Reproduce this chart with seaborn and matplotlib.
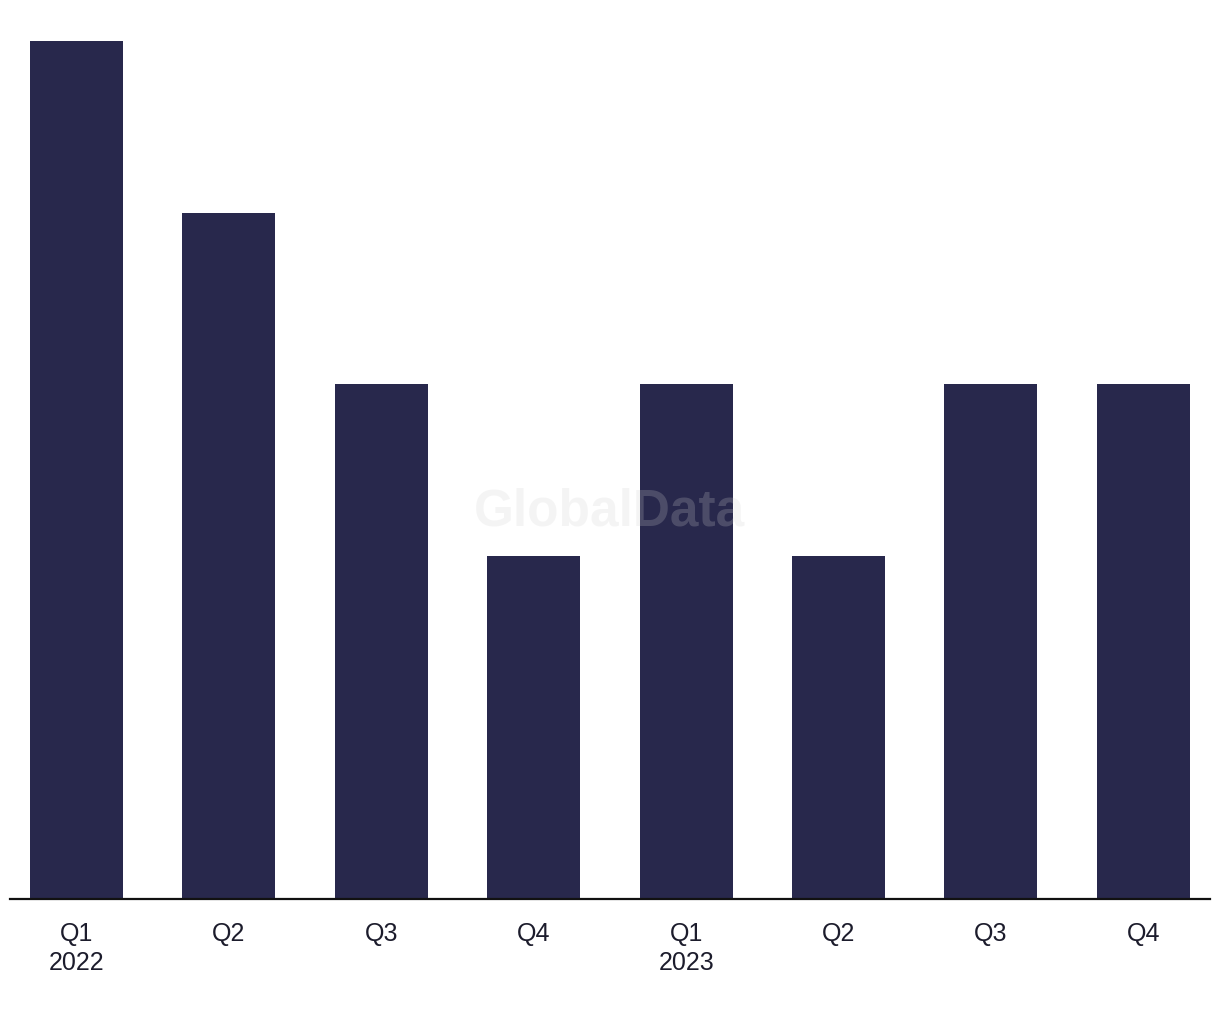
import matplotlib
matplotlib.use("Agg")
import matplotlib.pyplot as plt
import seaborn as sns
import pandas as pd

quarters = ["Q1\n2022", "Q2", "Q3", "Q4", "Q1\n2023", "Q2", "Q3", "Q4"]
values = [5, 4, 3, 2, 3, 2, 3, 3]

bar_color = "#28284c"
text_color = "#1c1c2c"

sns.set_theme(style="white")
plt.rcParams['font.family'] = ['Liberation Sans', 'DejaVu Sans']

df = pd.DataFrame({"pos": range(len(values)), "value": values})

fig = plt.figure(figsize=(12.2, 10.2), dpi=100)
ax = fig.add_axes([10 / 1220, 120 / 1020, 1200 / 1220, 858 / 1020])

sns.barplot(data=df, x="pos", y="value", color=bar_color, width=0.61,
            saturation=1, ax=ax, native_scale=True, linewidth=0)

ax.set_xlim(-0.436, 7.437)
ax.set_ylim(0, 5)
ax.set_xticks(range(len(values)))
ax.set_xticklabels(quarters, fontsize=18, color=text_color, linespacing=1.25)
ax.tick_params(axis="x", length=0, pad=16)
ax.set_yticks([])
ax.set_xlabel("")
ax.set_ylabel("")
for side in ["top", "left", "right"]:
    ax.spines[side].set_visible(False)
ax.spines["bottom"].set_color("#111111")
ax.spines["bottom"].set_linewidth(1.6)

# faint watermark
fig.text(610 / 1220, 1 - 512 / 1020, "GlobalData", ha="center", va="center",
         fontsize=37, fontweight="bold", color="#d0d0d0", alpha=0.22, zorder=10)

fig.savefig("out.png", dpi=100, facecolor="white")
